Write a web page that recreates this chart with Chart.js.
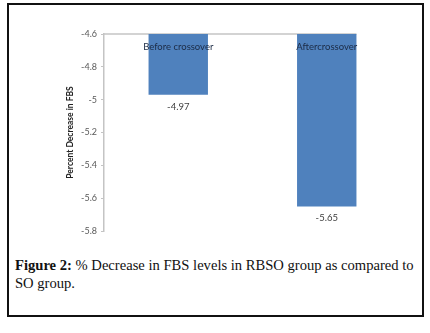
<!DOCTYPE html>
<html>
<head>
<meta charset="utf-8">
<script src="https://cdn.jsdelivr.net/npm/chart.js@4/dist/chart.umd.min.js"></script>
<style>
    body { margin: 0; background: #fff; }
    #frame {
        position: absolute; left: 7px; top: 3px; width: 417px; height: 314px;
        border: 2px solid #111; box-sizing: border-box;
    }
    #wrap { position: absolute; left: 0; top: 0; width: 430px; height: 250px; }
    #caption {
        position: absolute; left: 15px; top: 256px; width: 412px;
        font-family: "Liberation Serif", serif; font-size: 14.6px; line-height: 18px; color: #111;
    }
</style>
</head>
<body>
<div id="frame"></div>
<div id="wrap"><canvas id="fbsChart"></canvas></div>
<div id="caption"><b>Figure 2:</b> % Decrease in FBS levels in RBSO group as compared to<br>SO group.</div>
<script>
const categories = ['Before crossover', 'Aftercrossover'];
const decreaseValues = [-4.97, -5.65];
const yMin = -5.8;
const yMax = -4.6;
const yStep = 0.2;

const ctx = document.getElementById('fbsChart').getContext('2d');

// linea del eje superior, solo hasta la ultima barra
const topAxisLine = {
    id: 'topAxisLine',
    beforeDatasetsDraw(chart) {
        const area = chart.chartArea;
        const bars = chart.getDatasetMeta(0).data;
        const last = bars[bars.length - 1];
        const c = chart.ctx;
        c.save();
        c.strokeStyle = '#c4c4c4';
        c.lineWidth = 1.5;
        c.beginPath();
        c.moveTo(area.left, area.top);
        c.lineTo(last.x + last.width / 2, area.top);
        c.stroke();
        c.restore();
    }
};

const barLabels = {
    id: 'barLabels',
    afterDatasetsDraw(chart) {
        const c = chart.ctx;
        const area = chart.chartArea;
        const ds = chart.data.datasets[0];
        c.save();
        c.textAlign = 'center';
        c.textBaseline = 'middle';
        chart.getDatasetMeta(0).data.forEach((bar, i) => {
            c.font = '9.5px Lato';
            c.fillStyle = '#1c2b45';
            c.fillText(chart.data.labels[i], bar.x, area.top + 13);
            c.font = '9.5px Lato';
            c.fillStyle = '#404040';
            c.fillText(ds.data[i].toFixed(2), bar.x, bar.y + 12);
        });
        c.restore();
    }
};

new Chart(ctx, {
    type: 'bar',
    data: {
        labels: categories,
        datasets: [{
            data: decreaseValues,
            backgroundColor: '#4f81bd',
            borderWidth: 0,
            barPercentage: 0.4,
            categoryPercentage: 1
        }]
    },
    options: {
        responsive: true,
        maintainAspectRatio: false,
        animation: false,
        layout: { padding: { left: 60, top: 34, right: 29, bottom: 19 } },
        plugins: {
            legend: { display: false },
            tooltip: { enabled: false }
        },
        scales: {
            x: {
                position: 'top',
                ticks: { display: false },
                grid: { display: false, drawTicks: false },
                border: { display: false },
                afterFit: function(scale) { scale.height = 0; }
            },
            y: {
                min: yMin,
                max: yMax,
                ticks: {
                    stepSize: yStep,
                    padding: 4,
                    color: '#595959',
                    font: { family: 'Lato', size: 9 },
                    callback: function(v) { return String(parseFloat(v.toFixed(1))); }
                },
                grid: {
                    drawOnChartArea: false,
                    drawTicks: true,
                    tickLength: 3,
                    color: '#c4c4c4'
                },
                border: { color: '#c4c4c4', width: 1.5 },
                title: {
                    display: true,
                    text: 'Percent Decrease in FBS',
                    color: '#222',
                    font: { family: 'Lato', size: 8.5, weight: 'bold' },
                    padding: { top: 5, bottom: 0 }
                },
                afterFit: function(scale) { scale.width = 44; }
            }
        }
    },
    plugins: [topAxisLine, barLabels]
});
</script>
</body>
</html>
